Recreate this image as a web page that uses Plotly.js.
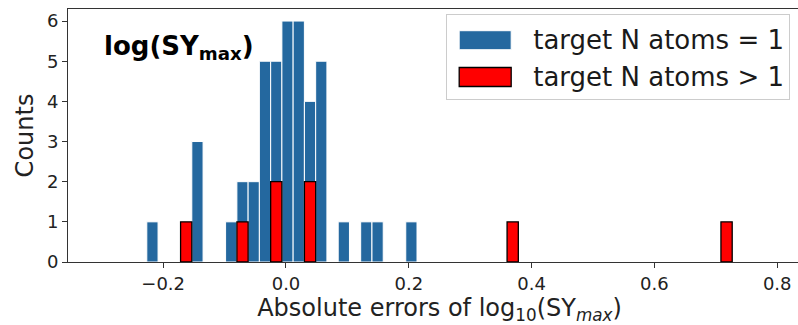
<!DOCTYPE html>
<html>
<head>
<meta charset="utf-8">
<script src="https://cdn.plot.ly/plotly-3.0.1.min.js"></script>
<style>
  html, body { margin: 0; padding: 0; background: #fff; overflow: hidden; width: 798px; height: 325px; }
  #chart { width: 812px; height: 325px; }
</style>
</head>
<body>
<div id="chart"></div>
<script>
// Histogram bins: range -0.3 .. 0.8, 60 bins
const binWidth = 1.1 / 60;

// target N atoms = 1
const blueCenters = [-0.2175, -0.1442, -0.0892, -0.0708, -0.0525, -0.0342, -0.0158, 0.0025, 0.0208, 0.0392, 0.0575, 0.0942, 0.1308, 0.1492, 0.2042];
const blueCounts  = [1, 3, 1, 2, 2, 5, 5, 6, 6, 4, 5, 1, 1, 1, 1];

// target N atoms > 1
const redCenters = [-0.1625, -0.0708, -0.0158, 0.0392, 0.3692, 0.7175];
const redCounts  = [1, 1, 2, 2, 1, 1];

const xTickVals = [-0.2, 0.0, 0.2, 0.4, 0.6, 0.8];
const xTickText = ["\u22120.2", "0.0", "0.2", "0.4", "0.6", "0.8"];
const yTickVals = [0, 1, 2, 3, 4, 5, 6];

const FONT = "DejaVu Sans, Liberation Sans, sans-serif";

const traces = [
  {
    type: "bar",
    name: "target N atoms = 1",
    x: blueCenters,
    y: blueCounts,
    width: blueCenters.map(() => binWidth),
    marker: { color: "#24689f", line: { color: "#ffffff", width: 1 } }
  },
  {
    type: "bar",
    name: "target N atoms > 1",
    x: redCenters,
    y: redCounts,
    width: redCenters.map(() => binWidth),
    marker: { color: "#ff0000", line: { color: "#000000", width: 1.3 } }
  }
];

const layout = {
  width: 812,
  height: 325,
  margin: { l: 68, r: 1, t: 8.6, b: 63, pad: 0 },
  paper_bgcolor: "#ffffff",
  plot_bgcolor: "#ffffff",
  barmode: "overlay",
  bargap: 0,
  font: { family: FONT, color: "#222222", size: 18 },
  xaxis: {
    range: [-0.355, 0.855],
    tickvals: xTickVals,
    ticktext: xTickText,
    ticks: "outside",
    ticklen: 5,
    tickwidth: 1,
    tickcolor: "#333333",
    showline: true,
    linecolor: "#333333",
    linewidth: 1,
    mirror: true,
    showgrid: false,
    zeroline: false,
    tickfont: { family: FONT, size: 18, color: "#222222" },
    title: {
      text: "Absolute errors of log<sub>10</sub>(SY<sub><i>max</i></sub>)",
      font: { family: FONT, size: 24, color: "#222222" },
      standoff: 7
    },
    automargin: false
  },
  yaxis: {
    range: [0, 6.3],
    tickvals: yTickVals,
    ticks: "outside",
    ticklen: 5,
    tickwidth: 1,
    tickcolor: "#333333",
    showline: true,
    linecolor: "#333333",
    linewidth: 1,
    mirror: true,
    showgrid: false,
    zeroline: false,
    tickfont: { family: FONT, size: 18, color: "#222222" },
    title: {
      text: "Counts",
      font: { family: FONT, size: 24, color: "#222222" },
      standoff: 6
    },
    automargin: false
  },
  showlegend: true,
  legend: {
    x: 0.509,
    xanchor: "left",
    y: 0.979,
    yanchor: "top",
    bgcolor: "rgba(255,255,255,0.85)",
    bordercolor: "#cccccc",
    borderwidth: 1,
    font: { family: FONT, size: 26, color: "#1a1a1a" },
    itemwidth: 76,
    traceorder: "normal"
  },
  annotations: [
    {
      xref: "paper", yref: "paper",
      x: 0.046, y: 0.846,
      xanchor: "left", yanchor: "middle",
      text: "<b>log(SY<sub>max</sub>)</b>",
      showarrow: false,
      font: { family: FONT, size: 26, color: "#000000" }
    }
  ]
};

const gd = document.getElementById("chart");

function bigLegendPatches() {
  gd.querySelectorAll(".legend .legendpoints path").forEach(function (p) {
    p.setAttribute("d", "M21,11H-31V-8H21Z");
  });
}

Plotly.newPlot(gd, traces, layout, { displayModeBar: false, staticPlot: true });
bigLegendPatches();
gd.on && gd.on("plotly_afterplot", bigLegendPatches);
Promise.resolve().then(bigLegendPatches);
setTimeout(bigLegendPatches, 0);
setTimeout(bigLegendPatches, 100);
</script>
</body>
</html>
